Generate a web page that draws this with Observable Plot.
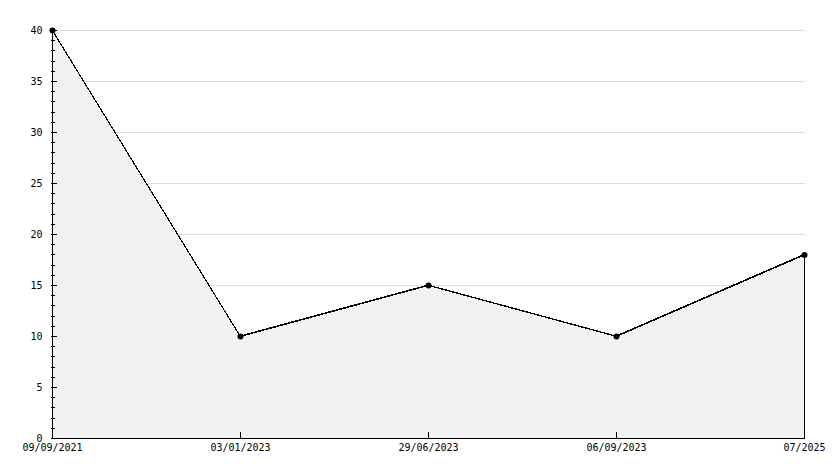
<!DOCTYPE html>
<html>
<head>
<meta charset="utf-8">
<script src="https://cdn.jsdelivr.net/npm/d3@7"></script>
<script src="https://cdn.jsdelivr.net/npm/@observablehq/plot@0.6"></script>
<style>
  html, body { margin: 0; padding: 0; background: #fff; }
  svg { shape-rendering: crispEdges; }
</style>
</head>
<body>
<div id="chart"></div>
<script>
const dates = ["09/09/2021", "03/01/2023", "29/06/2023", "06/09/2023", "07/2025"];
const values = [40, 10, 15, 10, 18];
const majorTicks = [0, 5, 10, 15, 20, 25, 30, 35, 40];
const minorTicks = d3.range(0, 41, 1);

const data = dates.map((d, i) => ({date: d, value: values[i]}));

const chart = Plot.plot({
  width: 834,
  height: 468,
  marginLeft: 51,
  marginRight: 29,
  marginTop: 30,
  marginBottom: 30,
  style: {fontFamily: "DejaVu Sans Mono", fontSize: "10px", color: "#000", background: "#fff"},
  x: {type: "point", domain: dates, padding: 0, axis: null, label: null},
  y: {domain: [0, 40], axis: null, label: null},
  marks: [
    Plot.gridY(majorTicks.filter(d => d > 0), {stroke: "#dddddd", strokeOpacity: 1}),
    Plot.areaY(data, {x: "date", y: "value", fill: "#f2f2f2", stroke: "#000", strokeWidth: 1, shapeRendering: "auto"}),
    Plot.lineY(data, {x: "date", y: "value", stroke: "#000", strokeWidth: 1, shapeRendering: "auto"}),
    Plot.dot(data, {x: "date", y: "value", r: 3, fill: "#000", stroke: "none", shapeRendering: "geometricPrecision"}),
    Plot.ruleX([0], {x: () => dates[0], y1: 0, y2: 40, stroke: "#000"}),
    Plot.ruleY([0], {stroke: "#000"}),
    Plot.axisY({ticks: minorTicks, tickSize: 4, dx: 4, tickFormat: () => "", stroke: "#000", label: null}),
    Plot.axisY({ticks: majorTicks, tickSize: 6, dx: 6, tickFormat: () => "", stroke: "#000", label: null}),
    Plot.axisY({ticks: majorTicks, tickSize: 0, tickPadding: 9, tickFormat: d => String(d), fill: "#000", label: null}),
    Plot.axisX({ticks: dates, tickSize: 6, dy: -6, tickFormat: () => "", stroke: "#000", label: null}),
    Plot.axisX({ticks: dates, tickSize: 0, tickPadding: 5, tickFormat: d => d, fill: "#000", label: null})
  ]
});
document.getElementById("chart").appendChild(chart);
</script>
</body>
</html>
